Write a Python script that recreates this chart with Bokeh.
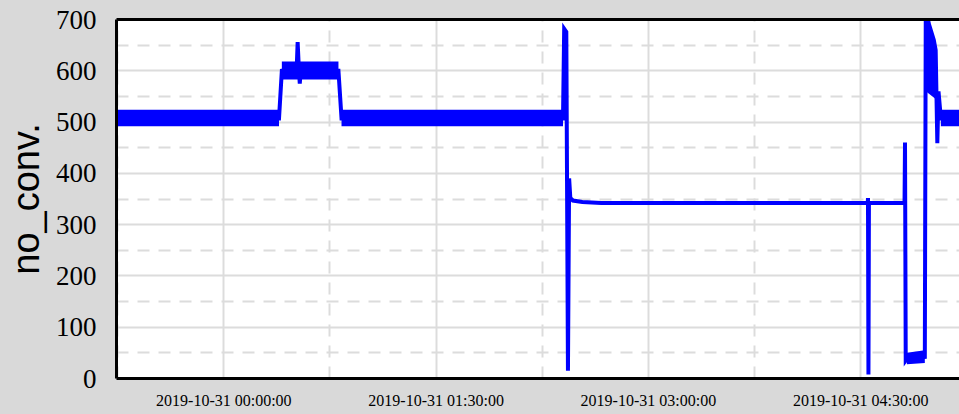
import pandas as pd
from bokeh.plotting import figure
from bokeh.models import Range1d, FixedTicker, DatetimeTickFormatter, LinearAxis, ColumnDataSource
from bokeh.embed import file_html
from bokeh.resources import INLINE

# ---------------- data (minutes after 2019-10-31 00:00:00) ----------------
base_time = "2019-10-31 00:00:00"

trace_min = [-45.5, 23.4, 24.6, 30.9, 31.3, 31.8, 32.2, 32.6, 48.6, 49.9, 143.8, 144.3,
             145.2, 145.9, 146.4, 146.9, 148.0, 152.0, 160.0, 273.0, 273.1, 273.3,
             273.5, 288.6, 288.8, 289.1, 289.6, 293.0, 297.2, 297.6, 299.0, 301.0,
             301.8, 302.5, 303.0, 304.0, 311.9]
trace_val = [507, 507, 600, 605, 656, 605, 575, 600, 600, 507, 507, 682,
             676, 15, 390, 352, 347, 344, 342, 342, 352, 8,
             342, 342, 460, 35, 38, 40, 42, 720, 690, 660,
             640, 459, 560, 507, 507]

band_start = [-45.5, 24.6, 49.9, 289.6, 297.6, 304.0]
band_end = [23.4, 48.6, 143.8, 297.2, 301.8, 311.9]
band_low_start = [492, 583, 492, 28, 560, 492]
band_low_end = [492, 583, 492, 30, 545, 492]
band_high_start = [524, 618, 524, 50, 705, 524]
band_high_end = [524, 618, 524, 55, 645, 524]

x_tick_labels = ["2019-10-31 00:00:00", "2019-10-31 01:30:00",
                 "2019-10-31 03:00:00", "2019-10-31 04:30:00"]
x_minor_labels = ["2019-10-30 23:15:00", "2019-10-31 00:45:00", "2019-10-31 02:15:00",
                  "2019-10-31 03:45:00", "2019-10-31 05:15:00"]
y_ticks = [0, 100, 200, 300, 400, 500, 600, 700]
y_minor = [50, 150, 250, 350, 450, 550, 650]
x_start_min, x_end_min = -45.5, 311.9

# ---------------- helpers ----------------
t0 = pd.Timestamp(base_time)


def to_ms(mins):
    return [(t0 + pd.Timedelta(minutes=m)).value / 1e6 for m in mins]


def lab_ms(labels):
    return [pd.Timestamp(s).value / 1e6 for s in labels]


GRAY = "#d9d9d9"
GRID = "#dcdcdc"
BLUE = "#0000ff"

p = figure(width=959, height=414, x_axis_type="datetime", output_backend="svg",
           toolbar_location=None,
           x_range=Range1d(*to_ms([x_start_min, x_end_min])),
           y_range=Range1d(0, 700),
           background_fill_color="white", border_fill_color=GRAY,
           min_border_left=116, min_border_right=0, min_border_top=19,
           min_border_bottom=36)
p.outline_line_color = None

# bands of noisy signal
for i in range(len(band_start)):
    src = ColumnDataSource(dict(x=to_ms([band_start[i], band_end[i]]),
                                y1=[band_low_start[i], band_low_end[i]],
                                y2=[band_high_start[i], band_high_end[i]]))
    p.varea(x="x", y1="y1", y2="y2", source=src, fill_color=BLUE, fill_alpha=1.0)

p.line(to_ms(trace_min), trace_val, line_color=BLUE, line_width=4, line_join="miter")

# axes
p.xaxis.ticker = FixedTicker(ticks=lab_ms(x_tick_labels), minor_ticks=lab_ms(x_minor_labels))
fmt = "%Y-%m-%d %H:%M:%S"
p.xaxis.formatter = DatetimeTickFormatter(milliseconds=fmt, seconds=fmt, minsec=fmt, minutes=fmt,
                                          hourmin=fmt, hours=fmt, days=fmt, months=fmt, years=fmt)
p.yaxis.ticker = FixedTicker(ticks=y_ticks, minor_ticks=y_minor)

for ax in (p.xaxis[0], p.yaxis[0]):
    ax.axis_line_color = "black"
    ax.axis_line_width = 3
    ax.major_tick_line_color = None
    ax.minor_tick_line_color = None
    ax.major_label_text_color = "black"

p.xaxis.major_label_text_font = "Liberation Serif"
p.yaxis.major_label_text_font = "Liberation Serif"
p.yaxis.major_label_text_font_size = "27px"
p.yaxis.major_label_standoff = 14
p.xaxis.major_label_text_font_size = "16px"
p.xaxis.major_label_standoff = 7

p.yaxis.axis_label = "no_conv."
p.yaxis.axis_label_text_font = "Liberation Sans"
p.yaxis.axis_label_text_font_size = "38px"
p.yaxis.axis_label_text_font_style = "normal"
p.yaxis.axis_label_text_color = "black"
p.yaxis.axis_label_standoff = 6

top_axis = LinearAxis(ticker=FixedTicker(ticks=[]), axis_line_color="black", axis_line_width=3,
                      major_tick_line_color=None, minor_tick_line_color=None,
                      major_label_text_font_size="0px")
p.add_layout(top_axis, "above")

# grids
for g in (p.xgrid[0], p.ygrid[0]):
    g.grid_line_color = GRID
    g.grid_line_width = 2
    g.minor_grid_line_color = GRID
    g.minor_grid_line_width = 2
    g.minor_grid_line_dash = "12 9"

html = file_html(p, INLINE)
html = html.replace("</head>", "<style>html,body{background:#d9d9d9;}</style></head>", 1)
open("out.html", "w").write(html)
